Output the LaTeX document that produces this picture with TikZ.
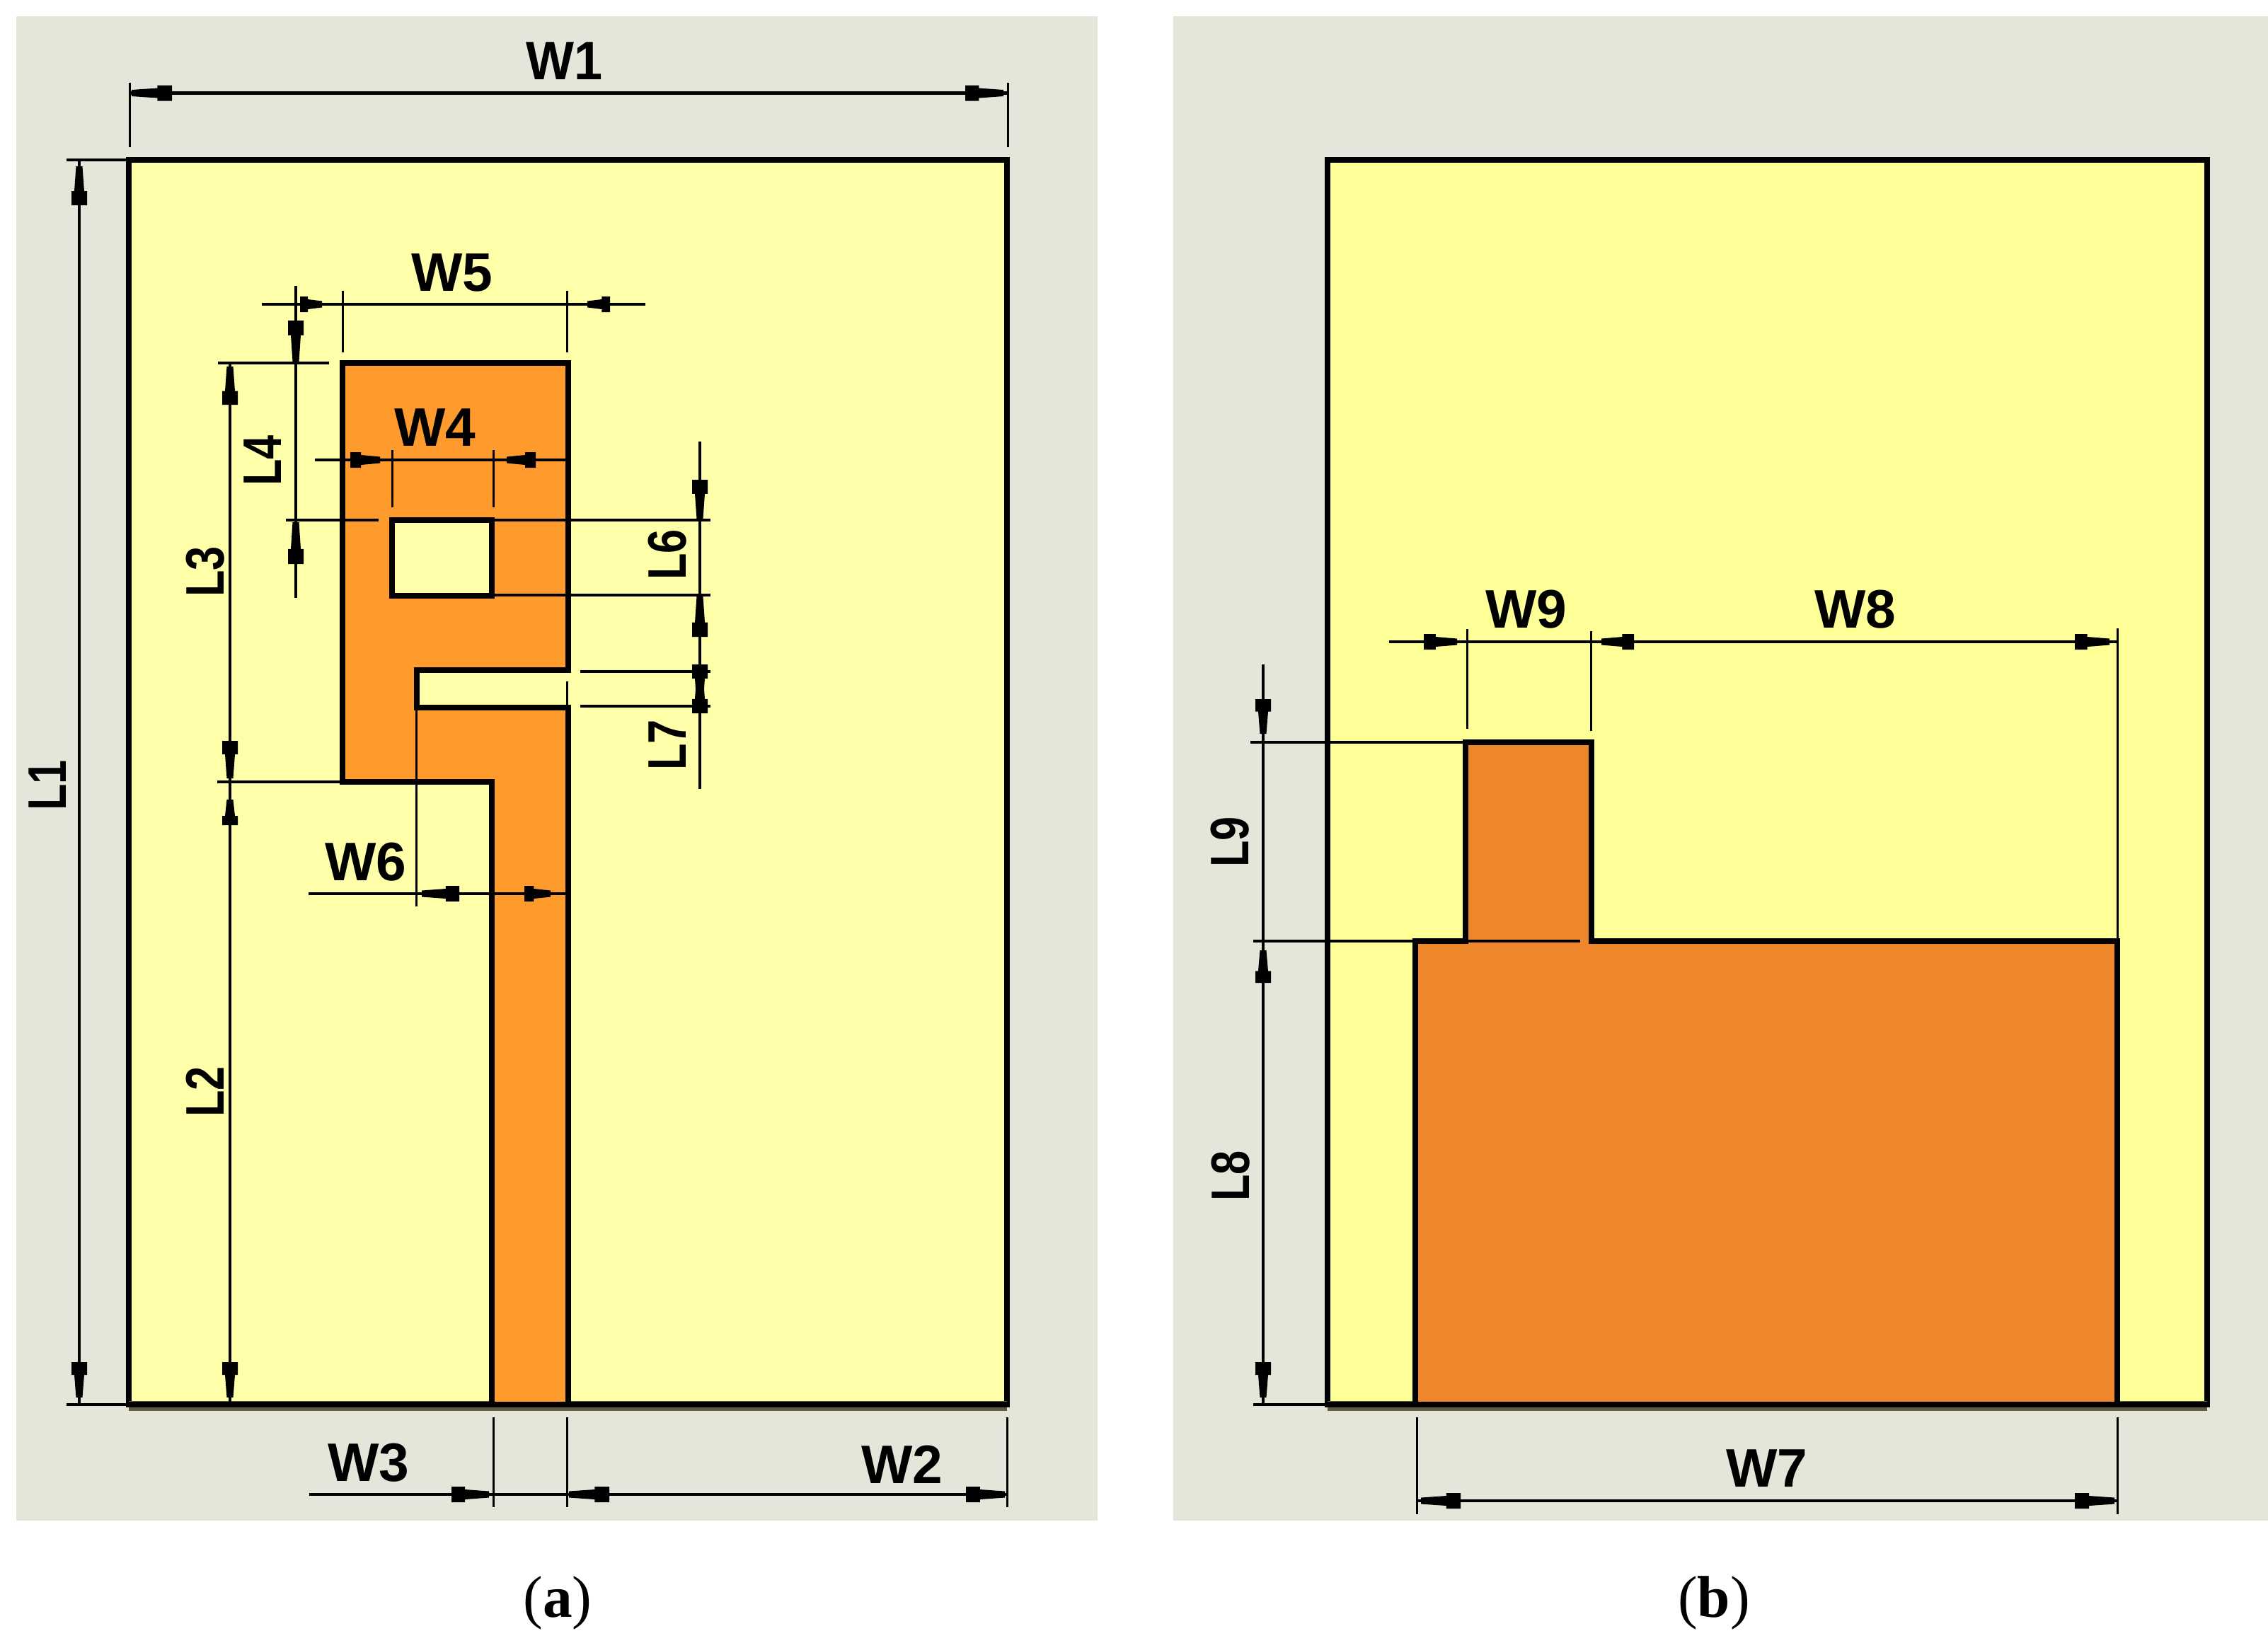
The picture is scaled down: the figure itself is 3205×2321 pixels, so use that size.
\documentclass[tikz,border=0pt]{standalone}
\usepackage{graphicx}
\usepackage{fontspec}
\setmainfont{Liberation Sans}
\newfontfamily\capfont{Liberation Serif}
\definecolor{panelbg}{HTML}{E5E5DA}
\definecolor{subA}{HTML}{FFFFA9}
\definecolor{subB}{HTML}{FFFF98}
\definecolor{patchA}{HTML}{FF9A2C}
\definecolor{patchB}{HTML}{EE872B}
\definecolor{edgeshade}{HTML}{5E5C45}
\tikzset{
  panel/.style={fill=panelbg,draw=none},
  outlineA/.style={draw=black,line width=2.6pt,line join=miter,fill=subA},
  outlineB/.style={draw=black,line width=2.6pt,line join=miter,fill=subB},
  metalA/.style={draw=black,line width=2.4pt,line join=miter,fill=patchA,even odd rule},
  metalB/.style={draw=black,line width=2.4pt,line join=miter,fill=patchB},
  shade edge/.style={draw=edgeshade,line width=4.4pt},
  dimline/.style={draw=black,line width=1.3pt},
  extline/.style={draw=black,line width=0.9pt},
  dimlabel/.style={font=\bfseries\fontsize{23}{23}\selectfont,inner sep=0pt,text=black},
  vlabel/.style={dimlabel,rotate=90},
  caplabel/.style={font=\capfont\fontsize{25}{25}\selectfont,inner sep=0pt,text=black},
}
\newcommand\Ltext[1]{\scalebox{0.8}[1]{#1}}
% horizontal dimension tip: base x, line y, point x
\newcommand\TipH[3]{%
  \pgfmathsetmacro\tipk{#1+0.36*(#3-#1)}%
  \fill[black] (#1,#2-11) -- (\tipk,#2-11) -- (\tipk,#2-7) -- (#3,#2-4.5) -- (#3,#2+4.5) -- (\tipk,#2+7) -- (\tipk,#2+11) -- (#1,#2+11) -- cycle;}
% vertical dimension tip: line x, base y, point y
\newcommand\TipV[3]{%
  \pgfmathsetmacro\tipk{#2+0.36*(#3-#2)}%
  \fill[black] (#1-11,#2) -- (#1-11,\tipk) -- (#1-7,\tipk) -- (#1-4.5,#3) -- (#1+4.5,#3) -- (#1+7,\tipk) -- (#1+11,\tipk) -- (#1+11,#2) -- cycle;}
\begin{document}
\begin{tikzpicture}[x=0.3pt,y=-0.3pt]
\useasboundingbox (0,0) rectangle (3205,2321);
\fill[white] (0,0) rectangle (3205,2321);

% ---------- panel a ----------
\path[panel] (23,23) rectangle (1551,2149);
\path[outlineA] (182,226) rectangle (1423,1985);
\draw[shade edge] (182,1987) -- (1423,1987);
\path[metalA] (484,513) -- (803,513) -- (803,947) -- (589,947) -- (589,1000) -- (803,1000)
  -- (803,1985) -- (695,1985) -- (695,1105) -- (484,1105) -- cycle
  (554,735) -- (695,735) -- (695,842) -- (554,842) -- cycle;
\draw[draw=black,line width=2.6pt] (182,1985) -- (1423,1985);

% W1
\draw[dimline] (183,131.5) -- (1424,131.5);
\draw[extline] (183,117) -- (183,208) (1424,117) -- (1424,208);
\TipH{243}{131.5}{186} \TipH{1364}{131.5}{1418}
\node[dimlabel] (w1) at (798,86) {\scalebox{0.94}[1]{W1}};
% L1
\draw[dimline] (112,226) -- (112,1985);
\draw[dimline] (94,226) -- (182,226) (94,1985) -- (182,1985);
\TipV{112}{290}{235} \TipV{112}{1925}{1975}
\node[vlabel] (l1) at (67,1110) {\Ltext{L1}};
% L2, L3
\draw[dimline] (325,513) -- (325,1985);
\draw[dimline] (308,513) -- (465,513) (307,1105) -- (484,1105);
\TipV{325}{572}{518} \TipV{325}{1047}{1100} \TipV{325}{1166}{1130} \TipV{325}{1925}{1975}
\node[vlabel] (l3) at (290,808) {\Ltext{L3}};
\node[vlabel] (l2) at (290,1543) {\Ltext{L2}};
% L4
\draw[dimline] (418,404) -- (418,845);
\draw[dimline] (404,735) -- (535,735);
\TipV{418}{453}{511} \TipV{418}{797}{738}
\node[vlabel] (l4) at (371,651) {\Ltext{L4}};
% W5
\draw[dimline] (370,430) -- (912,430);
\draw[extline] (484,411) -- (484,498) (801,411) -- (801,498);
\TipH{424}{430}{455} \TipH{862}{430}{830}
\node[dimlabel] (w5) at (639,385) {W5};
% W4
\draw[dimline] (445,650) -- (801,650);
\draw[extline] (554,636) -- (554,717) (697,636) -- (697,717);
\TipH{495}{650}{537} \TipH{757}{650}{716}
\node[dimlabel] (w4) at (615,604) {W4};
% L6, L7
\draw[dimline] (989,624) -- (989,1115);
\draw[dimline] (697,735) -- (1004,735) (695,841) -- (1004,841)
  (820,949) -- (1004,949) (820,998) -- (1004,998);
\draw[extline] (801,963) -- (801,1000);
\TipV{989}{678}{733} \TipV{989}{900}{843} \TipV{989}{939}{995} \TipV{989}{1008}{952}
\node[vlabel] (l6) at (943,784) {\Ltext{L6}};
\node[vlabel] (l7) at (943,1053) {\Ltext{L7}};
% W6
\draw[dimline] (436,1263) -- (803,1263);
\draw[extline] (588,1000) -- (588,1281);
\TipH{649}{1263}{596} \TipH{741}{1263}{778}
\node[dimlabel] (w6) at (517,1218) {W6};
% W3, W2
\draw[dimline] (437,2112) -- (1423,2112);
\draw[extline] (697,2003) -- (697,2130) (801,2003) -- (801,2130) (1423,2003) -- (1423,2130);
\TipH{638}{2112}{691} \TipH{861}{2112}{804} \TipH{1365}{2112}{1420}
\node[dimlabel] (w3) at (521,2067) {W3};
\node[dimlabel] (w2) at (1275,2070) {W2};
\node[caplabel] (capa) at (788,2265) {(\textbf{a})};

% ---------- panel b ----------
\path[panel] (1658,23) rectangle (3205,2149);
\path[outlineB] (1876,226) rectangle (3119,1985);
\draw[shade edge] (1876,1987) -- (3119,1987);
\path[metalB] (2000,1330) -- (2071,1330) -- (2071,1049) -- (2249,1049) -- (2249,1330)
  -- (2992,1330) -- (2992,1985) -- (2000,1985) -- cycle;
\draw[draw=black,line width=2.6pt] (1876,1985) -- (3119,1985);

% W9, W8
\draw[dimline] (1963,907) -- (2992,907);
\draw[extline] (2073,889) -- (2073,1030) (2248,892) -- (2248,1033) (2992,888) -- (2992,1330);
\TipH{2012}{907}{2059} \TipH{2309}{907}{2263} \TipH{2932}{907}{2981}
\node[dimlabel] (w9) at (2157,861) {W9};
\node[dimlabel] (w8) at (2622,861) {W8};
% L8, L9
\draw[dimline] (1785,939) -- (1785,1985);
\draw[dimline] (1767,1049) -- (2071,1049) (1771,1330) -- (2233,1330) (1771,1985) -- (1876,1985);
\TipV{1785}{988}{1037} \TipV{1785}{1389}{1343} \TipV{1785}{1925}{1975}
\node[vlabel] (l9) at (1738,1190) {\Ltext{L9}};
\node[vlabel] (l8) at (1739,1662) {\Ltext{L8}};
% W7
\draw[dimline] (2002,2121) -- (2992,2121);
\draw[extline] (2002,2003) -- (2002,2140) (2992,2003) -- (2992,2140);
\TipH{2064}{2121}{2008} \TipH{2932}{2121}{2988}
\node[dimlabel] (w7) at (2497,2075) {W7};
\node[caplabel] (capb) at (2422,2265) {(\textbf{b})};
\end{tikzpicture}
\end{document}
